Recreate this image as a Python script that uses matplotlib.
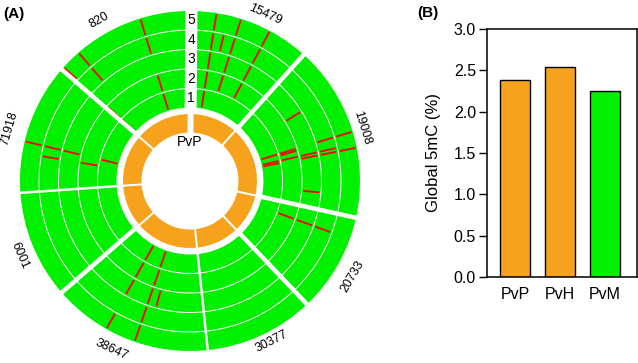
import numpy as np
import matplotlib.pyplot as plt

plt.rcParams['font.family'] = ['Liberation Sans', 'DejaVu Sans']

# panel A: contigs around the circle (clockwise from top), boundaries in degrees
contigs = ['15479', '19008', '20733', '30377', '38647', '6001', '71918', '820']
bounds = [0.5, 42, 102.5, 136.5, 174, 229, 266, 311, 360.5]
gap_green = [12, 4.5, 4.5, 4.5, 2.5, 4.5, 2.5, 4.5]   # white gap width, px
gap_orange = [6, 2, 2, 2, 2, 2, 2, 2]
label_ang = [24.4, 72.9, 120.4, 153, 204.9, 246.3, 286.3, 330.6]
label_r = [183, 180, 188, 180, 186, 186, 188, 185]

# methylated sites: angle (deg) and the tracks (1-5) where they show up
mark_angles = [9, 13, 17.5, 28, 58, 73.1, 74.2, 77.3, 78.7, 95, 110,
               195, 199, 209.5, 279.5, 283.5, 312, 319, 343]
mark_tracks = [[1, 2, 3, 4, 5], [4], [2, 3, 4, 5], [2, 3, 4, 5], [3],
               [1, 2, 4, 5], [2], [1, 2, 3, 4], [1, 3, 4, 5], [3], [2, 3, 4],
               [3], [1, 2, 3, 4, 5], [1, 2, 3, 5], [2, 4], [1, 3, 4, 5],
               [1, 2, 5], [4, 5], [1, 2, 4, 5]]

# panel B
samples = ['PvP', 'PvH', 'PvM']
global_5mc = [2.38, 2.54, 2.25]

green = '#00f000'
orange = '#f7a21c'

W, H = 638, 363
fig = plt.figure(figsize=(W / 100, H / 100), dpi=100)
px = 0.72  # points per pixel

cx, cy, R = 190, 181, 172
ax = fig.add_axes([(cx - R) / W, (H - cy - R) / H, 2 * R / W, 2 * R / H],
                  projection='polar')
ax.set_theta_zero_location('N')
ax.set_theta_direction(-1)
ax.set_ylim(0, R)
ax.axis('off')

track_in = [73.5, 93, 112.5, 132, 151.5]
track_h = 18.5
orange_in, orange_out = 48.5, 67

for i in range(len(contigs)):
    a0, a1 = bounds[i], bounds[i + 1]
    th = np.deg2rad((a0 + a1) / 2)
    w = np.deg2rad(a1 - a0)
    ax.bar(th, orange_out - orange_in, width=w, bottom=orange_in,
           color=orange, linewidth=0)
    for r0 in track_in:
        ax.bar(th, track_h, width=w, bottom=r0, color=green, linewidth=0)

    a = label_ang[i]
    rot = 180 - a if 90 < a < 270 else -a
    ax.text(np.deg2rad(a), label_r[i], contigs[i], rotation=rot,
            rotation_mode='anchor', ha='center', va='center', fontsize=9)

for ang, trs in zip(mark_angles, mark_tracks):
    th = np.deg2rad(ang)
    for t in trs:
        r0 = track_in[t - 1]
        ax.plot([th, th], [r0 + 1.2, r0 + track_h - 1.2], color='red',
                lw=1.3, solid_capstyle='butt')

for i in range(len(contigs)):
    th = np.deg2rad(bounds[i])
    ax.plot([th, th], [track_in[0] - 1, R], color='white',
            lw=gap_green[i] * px, solid_capstyle='butt')
    ax.plot([th, th], [orange_in - 1, orange_out + 1], color='white',
            lw=gap_orange[i] * px, solid_capstyle='butt')

for t in range(5):
    ax.text(np.deg2rad(0.5), track_in[t] + track_h / 2, str(t + 1),
            ha='center', va='center', fontsize=10)
ax.text(0, 39, 'PvP', ha='center', va='center', fontsize=10)

fig.text(14 / W, 1 - 14 / H, '(A)', fontweight='bold', fontsize=11,
         ha='center', va='center')
fig.text(428 / W, 1 - 13 / H, '(B)', fontweight='bold', fontsize=11,
         ha='center', va='center')

# panel B: bar chart
ax2 = fig.add_axes([487 / W, (H - 277) / H, 150 / W, 248 / H])
ax2.bar(range(3), global_5mc, width=0.67, color=[orange, orange, green],
        edgecolor='black', linewidth=1)
ax2.set_xlim(-0.62, 2.71)
ax2.set_ylim(0, 3)
ax2.set_yticks(np.arange(0, 3.01, 0.5))
ax2.set_yticklabels(['%.1f' % v for v in np.arange(0, 3.01, 0.5)])
ax2.set_xticks(range(3))
ax2.set_xticklabels(samples)
ax2.tick_params(axis='y', length=6, width=1, pad=2, labelsize=11.5)
ax2.tick_params(axis='x', length=0, pad=7, labelsize=11.5)
for s in ax2.spines.values():
    s.set_linewidth(1.1)
ax2.set_ylabel('Global 5mC (%)', fontsize=12, labelpad=9)

fig.savefig('out.png', dpi=100)
